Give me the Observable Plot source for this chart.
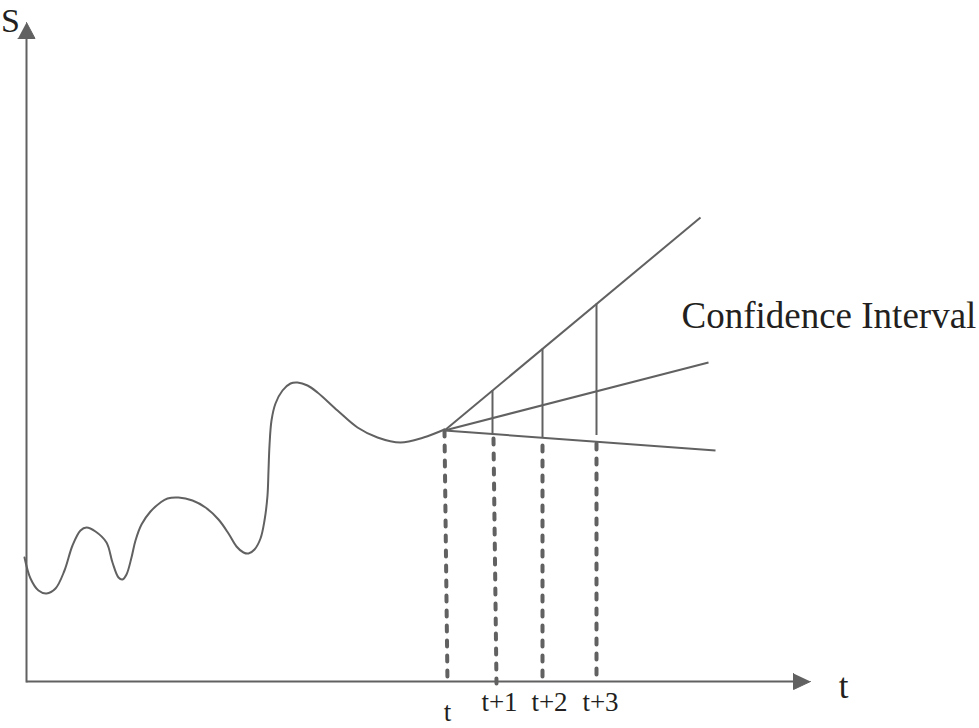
<!DOCTYPE html>
<html>
<head>
<meta charset="utf-8">
<script src="https://cdn.jsdelivr.net/npm/d3@7"></script>
<script src="https://cdn.jsdelivr.net/npm/@observablehq/plot@0.6"></script>
<style>
  html, body { margin: 0; padding: 0; background: #fff; }
  #chart svg { display: block; }
</style>
</head>
<body>
<div id="chart"></div>
<script>
// Historical series S(t) (schematic units)
const curveX = [24, 30, 38, 46, 55, 64, 72, 80, 86, 95, 106, 112, 118, 122, 126, 131, 135, 141, 150, 160, 167, 178, 192, 205, 218, 228, 236, 243, 248, 254, 260, 264, 267, 268, 269, 271, 275, 282, 290, 297, 307, 317, 337, 357, 377, 400, 423, 444];
const curveS = [171, 150, 138, 135, 140, 158, 183, 198, 201, 197, 186, 166, 151, 149, 154, 171, 188, 204, 217, 226, 230, 231, 228, 221, 209, 195, 182, 176, 175, 179, 190, 208, 233, 258, 283, 308, 325, 338, 345, 346, 343, 336, 318, 301, 291, 286, 291, 299];

// Forecast fan (origin and end points of upper, central, lower lines)
const fanOrigin = {x: 444, s: 298};
const fanNames = ["upper", "central", "lower"];
const fanEndX = [700, 708, 715];
const fanEndS = [511, 366, 278];

// Confidence interval verticals at t+1, t+2, t+3
const ciX = [492, 542, 596];
const ciLo = [294.5, 291, 293];
const ciHi = [338, 379.5, 424.5];

// Dashed drop lines from forecast points to time axis
const dashTopX = [444, 493, 542, 596];
const dashBotX = [447, 496, 542, 596];
const dashTopS = [298, 290, 283, 285];
const dashBotS = 45;

// Axes
const axisOriginX = 26;
const axisOriginS = 47;
const yAxisTopS = 692;
const xAxisRightX = 795;
const arrowUp = [[17.5, 690], [34.5, 690], [26, 706]];
const arrowRight = [[793, 55], [793, 39], [810, 47]];

// Tick labels
const tickLabels = ["t", "t+1", "t+2", "t+3"];
const tickLabelX = [447, 499, 549, 600];
const tickLabelS = [8, 18, 18, 18];

// Other labels
const axisLabels = [
  {text: "S", x: 10, s: 697, size: 34, anchor: "middle"},
  {text: "t", x: 843, s: 31, size: 35, anchor: "middle"},
  {text: "Confidence Interval", x: 681, s: 401, size: 37, anchor: "start"}
];

const gray = "#616161";
const ink = "#231f20";
const font = "'Liberation Serif', 'DejaVu Serif', serif";

const curve = curveX.map((x, i) => ({x, s: curveS[i]}));
const fan = fanNames.map((name, i) => ({name, x1: fanOrigin.x, s1: fanOrigin.s, x2: fanEndX[i], s2: fanEndS[i]}));
const ci = ciX.map((x, i) => ({x, lo: ciLo[i], hi: ciHi[i]}));
const dashes = dashTopX.map((x, i) => ({x1: x, s1: dashTopS[i], x2: dashBotX[i], s2: dashBotS}));
const axes = [
  {x1: axisOriginX, s1: axisOriginS - 1, x2: axisOriginX, s2: yAxisTopS},
  {x1: axisOriginX, s1: axisOriginS, x2: xAxisRightX, s2: axisOriginS}
];
const arrows = [
  ...arrowUp.map(([x, s]) => ({id: "up", x, s})),
  ...arrowRight.map(([x, s]) => ({id: "right", x, s}))
];
const ticks = tickLabels.map((text, i) => ({text, x: tickLabelX[i], s: tickLabelS[i]}));

const chart = Plot.plot({
  width: 979,
  height: 728,
  margin: 0,
  style: {background: "#fff"},
  x: {domain: [0, 979], axis: null},
  y: {domain: [0, 728], axis: null},
  marks: [
    Plot.link(axes, {x1: "x1", y1: "s1", x2: "x2", y2: "s2", stroke: gray, strokeWidth: 2}),
    Plot.line(arrows, {x: "x", y: "s", z: "id", fill: gray, stroke: gray, strokeWidth: 1}),
    Plot.link(dashes, {x1: "x1", y1: "s1", x2: "x2", y2: "s2", stroke: gray, strokeWidth: 4, strokeDasharray: "6,9", strokeLinecap: "round"}),
    Plot.line(curve, {x: "x", y: "s", curve: "catmull-rom", stroke: gray, strokeWidth: 2}),
    Plot.link(fan, {x1: "x1", y1: "s1", x2: "x2", y2: "s2", stroke: gray, strokeWidth: 2}),
    Plot.ruleX(ci, {x: "x", y1: "lo", y2: "hi", stroke: gray, strokeWidth: 2}),
    Plot.text(ticks, {x: "x", y: "s", text: "text", fontSize: 27, fontFamily: font, fill: ink, lineAnchor: "bottom"}),
    ...axisLabels.map(d => Plot.text([d], {x: "x", y: "s", text: "text", fontSize: d.size, fontFamily: font, fill: ink, textAnchor: d.anchor, lineAnchor: "bottom"}))
  ]
});
document.getElementById("chart").appendChild(chart);
</script>
</body>
</html>
